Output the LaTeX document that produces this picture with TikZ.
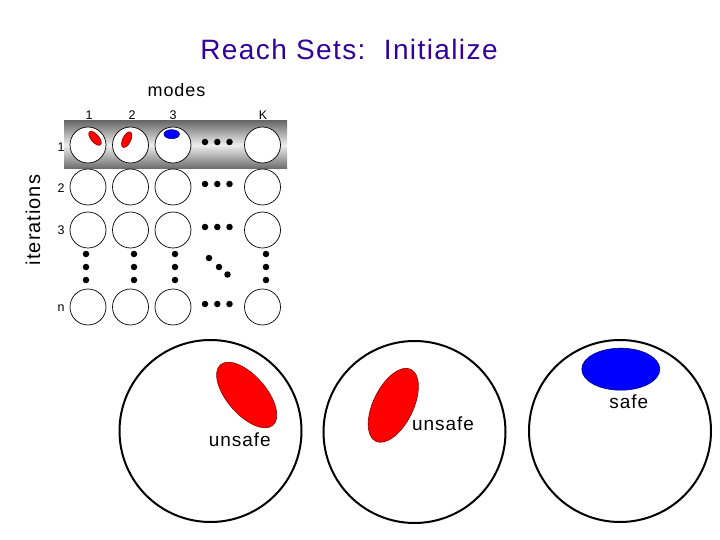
\documentclass[tikz,border=0pt]{standalone}
\usepackage{fontspec}
\setmainfont{Liberation Sans}
\newfontfamily\wideface[LetterSpace=5]{Liberation Sans}
\usetikzlibrary{shapes.geometric}
\definecolor{titlecol}{RGB}{51,0,153}
\definecolor{bandedge}{RGB}{105,105,105}
\definecolor{bandmid}{RGB}{238,238,238}
\definecolor{redline}{RGB}{140,0,0}
\definecolor{blueline}{RGB}{0,0,120}
\begin{document}
\begin{tikzpicture}[x=1pt,y=-1pt,
  cell/.style={circle,draw,fill=white,minimum size=36pt,inner sep=0pt,line width=0.7pt},
  big/.style={circle,draw,minimum size=182pt,inner sep=0pt,line width=2pt},
  redset/.style={ellipse,fill=red,draw=redline,line width=0.6pt,inner sep=0pt},
  blueset/.style={ellipse,fill=blue,draw=blueline,line width=0.6pt,inner sep=0pt},
  dotmark/.style={circle,fill=black,minimum size=6.5pt,inner sep=0pt},
  smalllab/.style={font=\wideface\fontsize{12.5}{14}\selectfont,inner sep=0pt},
  midlab/.style={font=\wideface\fontsize{18}{21}\selectfont,inner sep=0pt},
  setlab/.style={font=\wideface\fontsize{19}{22}\selectfont,inner sep=0pt,anchor=base}]
\useasboundingbox (0,0) rectangle (720,540);
\fill[white] (0,0) rectangle (720,540);
% title
\node[font=\wideface\fontsize{28}{32}\selectfont,text=titlecol,anchor=base,inner sep=0pt] (title) at (349,60) {Reach Sets:\ \ Initialize};
% labels
\node[midlab] (modes) at (176.5,90) {modes};
\node[font=\wideface\fontsize{20}{23}\selectfont,inner sep=0pt,rotate=90] (iter) at (33,220) {iterations};
\node[smalllab] (m1) at (89,115.5) {1};
\node[smalllab] (m2) at (132,115.5) {2};
\node[smalllab] (m3) at (173,115.5) {3};
\node[smalllab] (mK) at (263,115.5) {K};
\node[smalllab] (r1) at (61,147) {1};
\node[smalllab] (r2) at (61,188) {2};
\node[smalllab] (r3) at (61,230) {3};
\node[smalllab] (rn) at (61,308) {n};
% band
\shade[top color=bandedge,bottom color=bandedge,middle color=bandmid] (64,121) rectangle (287,169);
% cells
\foreach \r/\y in {1/145,2/187,3/230,n/307}{
  \node[cell] (c1\r) at (88,\y) {};
  \node[cell] (c2\r) at (130.5,\y) {};
  \node[cell] (c3\r) at (173,\y) {};
  \node[cell] (cK\r) at (262.5,\y) {};
  \node[dotmark] (hd1\r) at (205,\y-3) {};
  \node[dotmark] (hd2\r) at (217.3,\y-3) {};
  \node[dotmark] (hd3\r) at (229.5,\y-3) {};
}
% vertical dots
\foreach \c/\x in {1/86,2/134,3/175,K/266}{
  \node[dotmark] (vd1\c) at (\x,254) {};
  \node[dotmark] (vd2\c) at (\x,267) {};
  \node[dotmark] (vd3\c) at (\x,280) {};
}
\node[dotmark] (dd1) at (209,258) {};
\node[dotmark] (dd2) at (219,267) {};
\node[dotmark] (dd3) at (227.5,274.5) {};
% small sets
\node[redset,minimum width=17pt,minimum height=8pt,rotate=-50] (s1) at (95,138.3) {};
\node[redset,minimum width=17pt,minimum height=8pt,rotate=64] (s2) at (126.7,139.7) {};
\node[blueset,minimum width=15.5pt,minimum height=9pt] (s3) at (171.7,134.2) {};
% big circles
\node[big] (b1) at (210.5,431) {};
\node[big] (b2) at (414.5,432) {};
\node[big] (b3) at (620,431) {};
\node[redset,minimum width=80pt,minimum height=39pt,rotate=-49] (e1) at (246.7,395) {};
\node[redset,minimum width=80pt,minimum height=40pt,rotate=64] (e2) at (393.3,405.3) {};
\node[blueset,minimum width=78pt,minimum height=42pt] (e3) at (620.8,369.2) {};
\node[setlab] (u1) at (239.7,446.7) {unsafe};
\node[setlab] (u2) at (443,430) {unsafe};
\node[setlab] (sf) at (628.7,408) {safe};
\end{tikzpicture}
\end{document}
